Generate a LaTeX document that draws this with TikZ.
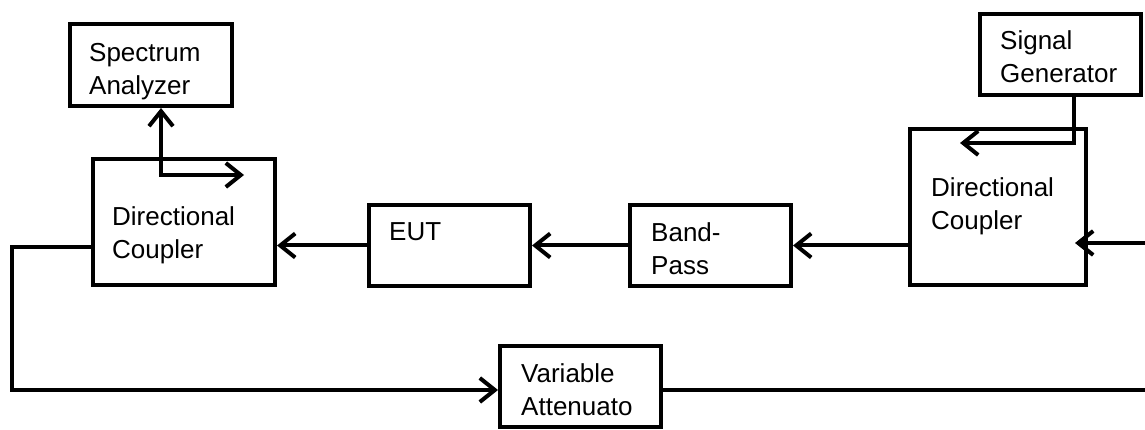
\documentclass[tikz,border=0pt]{standalone}
\usepackage{fontspec}
\setmainfont{Liberation Sans}
\usetikzlibrary{arrows.meta,calc}

\tikzset{
  blk/.style={draw, line width=4pt, minimum width=161pt, minimum height=81pt, inner sep=0pt},
  txt/.style={anchor=north west, inner sep=0pt, align=left, font=\fontsize{26}{33}\selectfont},
  wire/.style={line width=4pt},
  >={Straight Barb[length=15pt,width=24pt]}
}

\begin{document}
\begin{tikzpicture}[x=1pt,y=-1pt]
\useasboundingbox (0,0) rectangle (1145,430);

% boxes
\node[blk, minimum width=162pt, minimum height=82pt] (sa) at (151,65) {};
\node[blk, minimum width=182pt, minimum height=126pt] (dc1) at (184,222) {};
\node[blk] (eut) at (449.5,245.5) {};
\node[blk] (bp) at (710.5,245.5) {};
\node[blk] (va) at (580.5,386.5) {};
\node[blk] (sg) at (1060.5,55) {};
\node[blk, minimum width=176pt, minimum height=156pt] (dc2) at (998,207) {};

% texts
\node[txt] (sa-t) at ($(sa.north west)+(21,21)$) {Spectrum\\Analyzer};
\node[txt] (dc1-t) at ($(dc1.north west)+(21,49)$) {Directional\\Coupler};
\node[txt] (eut-t) at ($(eut.north west)+(22,19)$) {EUT};
\node[txt] (bp-t) at ($(bp.north west)+(23,19)$) {Band-\\Pass};
\node[txt] (va-t) at ($(va.north west)+(23,19)$) {Variable\\Attenuato};
\node[txt] (sg-t) at ($(sg.north west)+(22,18)$) {Signal\\Generator};
\node[txt] (dc2-t) at ($(dc2.north west)+(23,50)$) {Directional\\Coupler};

% signal path
\coordinate (sa-tap) at (161,175);
\coordinate (sa-port) at (244,175);
\draw[wire,<->] (sa.south -| sa-tap) -- (sa-tap) -- (sa-port);
\draw[wire,->] (eut.west) -- (eut.west -| dc1.east);
\draw[wire,->] (bp.west) -- (eut.east);
\draw[wire,->] (bp.east -| dc2.west) -- (bp.east);
\coordinate (rf-in) at (1145,243);
\coordinate (dc2-in) at (1075,243);
\draw[wire,->] (rf-in) -- (dc2-in);
\coordinate (sg-tap) at (1074,143);
\coordinate (dc2-port) at (960,143);
\draw[wire,->] (sg.south -| sg-tap) -- (sg-tap) -- (dc2-port);

% loop back
\coordinate (loop-top) at (12,247);
\coordinate (loop-bot) at (12,390);
\draw[wire,->] (dc1.west |- loop-top) -- (loop-top) -- (loop-bot) -- (va.west |- loop-bot);
\coordinate (rf-out) at (1145,390);
\draw[wire] (va.east |- rf-out) -- (rf-out);
\end{tikzpicture}
\end{document}
